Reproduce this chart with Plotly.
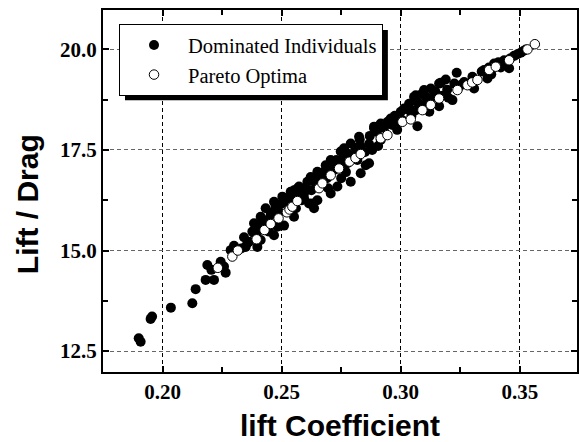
import plotly.graph_objects as go

# Dominated individuals (lift coefficient, lift/drag)
dom_x = [0.1900, 0.1908, 0.1950, 0.1956, 0.2035, 0.2125, 0.2139, 0.2181, 0.2216, 0.2188,
         0.2244, 0.2265, 0.2258, 0.2205, 0.2286, 0.2300, 0.2330, 0.2349, 0.2342, 0.2356,
         0.2363, 0.2377, 0.2384, 0.2384, 0.2398, 0.2412, 0.2412, 0.2426, 0.2412, 0.2433,
         0.2447, 0.2454, 0.2433, 0.2468, 0.2468, 0.2482, 0.2489, 0.2503, 0.2510, 0.2524,
         0.2538, 0.2552, 0.2552, 0.2552, 0.2566, 0.2573, 0.2594, 0.2594, 0.2608, 0.2615,
         0.2622, 0.2629, 0.2636, 0.2650, 0.2650, 0.2664, 0.2685, 0.2706, 0.2706, 0.2720,
         0.2734, 0.2748, 0.2762, 0.2776, 0.2790, 0.2790, 0.2804, 0.2818, 0.2825, 0.2832,
         0.2828, 0.2853, 0.2867, 0.2867, 0.2888, 0.2888, 0.2916, 0.2916, 0.2958, 0.2965,
         0.3000, 0.3007, 0.3014, 0.3028, 0.3056, 0.3063, 0.3063, 0.3070, 0.3070, 0.3098,
         0.3105, 0.3126, 0.3161, 0.3161, 0.3168, 0.3189, 0.3217, 0.3235, 0.3245, 0.3266,
         0.3301, 0.3308, 0.3350, 0.3364, 0.3392, 0.3434, 0.3441, 0.3455, 0.3476, 0.3504,
         0.3525,
         0.2405, 0.2440, 0.2460, 0.2475, 0.2495, 0.2515, 0.2530, 0.2545, 0.2560, 0.2580,
         0.2600, 0.2585, 0.2625, 0.2640, 0.2660, 0.2675, 0.2690, 0.2700, 0.2715, 0.2730,
         0.2745, 0.2760, 0.2780, 0.2695, 0.2750, 0.2770, 0.2810, 0.2830, 0.2850, 0.2870,
         0.2880, 0.2900, 0.2905, 0.2930, 0.2945, 0.2975, 0.2990, 0.2985, 0.3035, 0.3045,
         0.3080, 0.3090, 0.3110, 0.3130, 0.3145, 0.3175, 0.3195, 0.3120, 0.3200, 0.3225,
         0.3255, 0.3290, 0.3340, 0.3370, 0.3380, 0.3410, 0.3420, 0.3460, 0.3490, 0.3515]
dom_y = [12.82, 12.73, 13.30, 13.36, 13.58, 13.69, 14.04, 14.27, 14.27, 14.64,
         14.72, 14.45, 14.60, 14.52, 15.01, 15.12, 15.05, 15.09, 15.33, 15.18,
         15.22, 15.47, 15.43, 15.68, 15.09, 15.26, 15.63, 15.72, 15.84, 15.51,
         15.47, 15.88, 16.05, 16.21, 15.38, 15.59, 15.96, 16.34, 15.62, 16.17,
         16.46, 16.50, 15.84, 16.25, 16.54, 16.59, 16.30, 16.42, 16.71, 16.17,
         16.83, 16.17, 16.05, 16.25, 16.96, 16.67, 17.12, 17.25, 16.42, 17.00,
         16.59, 17.46, 17.54, 17.17, 16.71, 17.66, 17.33, 17.25, 17.83, 16.92,
         17.76, 17.12, 17.17, 17.65, 18.04, 18.08, 18.16, 17.75, 18.28, 18.12,
         18.45, 18.24, 18.53, 18.51, 18.82, 18.86, 18.49, 18.70, 18.09, 18.99,
         18.82, 19.03, 19.15, 18.59, 19.17, 19.25, 18.74, 19.42, 19.07, 19.19,
         19.32, 19.03, 19.49, 19.28, 19.65, 19.73, 19.65, 19.53, 19.84, 19.92,
         20.00,
         15.50, 15.75, 15.95, 16.10, 16.15, 16.28, 16.00, 16.35, 16.05, 16.40,
         16.55, 16.25, 16.50, 16.70, 16.85, 16.95, 16.80, 17.05, 17.15, 17.25,
         17.10, 17.30, 17.40, 16.55, 16.80, 16.95, 17.55, 17.60, 17.45, 17.85,
         17.50, 17.95, 17.60, 18.05, 18.20, 18.35, 18.20, 18.00, 18.65, 18.35,
         18.60, 18.90, 18.70, 18.80, 18.95, 18.85, 19.00, 18.45, 18.80, 19.15,
         19.12, 19.15, 19.45, 19.55, 19.38, 19.68, 19.55, 19.78, 19.88, 19.96]

# Pareto optima
par_x = [0.2232, 0.2293, 0.2316, 0.2395, 0.2428, 0.2454, 0.2487, 0.2522, 0.2533, 0.2545,
         0.2566, 0.2657, 0.2671, 0.2706, 0.2741, 0.2785, 0.2810, 0.2832, 0.2916, 0.2944,
         0.3007, 0.3042, 0.3091, 0.3126, 0.3161, 0.3238, 0.3280, 0.3300, 0.3322, 0.3371,
         0.3399, 0.3455, 0.3532, 0.3563]
par_y = [14.57, 14.85, 15.00, 15.28, 15.51, 15.66, 15.80, 15.95, 16.02, 16.09,
         16.23, 16.55, 16.67, 16.87, 17.04, 17.21, 17.30, 17.40, 17.79, 17.87,
         18.20, 18.26, 18.49, 18.62, 18.78, 18.99, 19.11, 19.18, 19.24, 19.49,
         19.57, 19.73, 20.00, 20.13]

x_ticks = [0.20, 0.25, 0.30, 0.35]
x_ticklabels = ["0.20", "0.25", "0.30", "0.35"]
y_ticks = [12.5, 15.0, 17.5, 20.0]
y_ticklabels = ["12.5", "15.0", "17.5", "20.0"]

fig = go.Figure()
fig.add_trace(go.Scatter(
    x=dom_x, y=dom_y, mode="markers", name="Dominated Individuals",
    marker=dict(symbol="circle", size=10, color="black", line=dict(width=0))))
fig.add_trace(go.Scatter(
    x=par_x, y=par_y, mode="markers", name="Pareto Optima",
    marker=dict(symbol="circle", size=9.5, color="white", line=dict(color="black", width=1))))

tickfont = dict(family="Liberation Serif, Times New Roman, serif", size=21, color="black")
titlefont = dict(family="Liberation Sans, Arial, sans-serif", size=30, color="black")

fig.update_layout(
    width=579, height=442,
    margin=dict(l=103, r=2, t=10, b=70, autoexpand=False),
    paper_bgcolor="white", plot_bgcolor="white",
    showlegend=True,
    legend=dict(x=0.0338, y=0.961, xanchor="left", yanchor="top",
                bgcolor="white", bordercolor="black", borderwidth=1,
                font=dict(family="Liberation Serif, Times New Roman, serif", size=20.5, color="black"),
                itemwidth=58, tracegroupgap=0),
    xaxis=dict(range=[0.175, 0.374], tickmode="array", tickvals=x_ticks,
               ticktext=["<b>%s</b>" % t for t in x_ticklabels],
               ticks="inside", ticklen=6, tickwidth=2, tickcolor="black",
               showline=True, linewidth=2, linecolor="black", mirror="allticks",
               showgrid=True, gridcolor="black", gridwidth=1, griddash="4px,3px",
               zeroline=False, tickfont=tickfont, automargin=False,
               minor=dict(tickmode="array", tickvals=[0.175, 0.225, 0.275, 0.325],
                          ticks="inside", ticklen=5, tickwidth=2, tickcolor="black", showgrid=False),
               title=dict(text="<b>lift Coefficient</b>", font=titlefont, standoff=18)),
    yaxis=dict(range=[11.98, 20.98], tickmode="array", tickvals=y_ticks,
               ticktext=["<b>%s</b>" % t for t in y_ticklabels],
               ticks="inside", ticklen=6, tickwidth=2, tickcolor="black",
               showline=True, linewidth=2, linecolor="black", mirror="allticks",
               showgrid=True, gridcolor="#666666", gridwidth=1, griddash="4px,3px",
               zeroline=False, tickfont=tickfont, automargin=False,
               minor=dict(tickmode="array", tickvals=[13.75, 16.25, 18.75],
                          ticks="inside", ticklen=5, tickwidth=2, tickcolor="black", showgrid=False)),
    annotations=[dict(text="<b>Lift / Drag</b>", font=titlefont, textangle=-90,
                      xref="paper", yref="paper", x=-0.160, y=0.464,
                      xanchor="center", yanchor="middle", showarrow=False)],
    shapes=[dict(type="rect", xref="paper", yref="paper",
                 x0=0.0464, x1=0.601, y0=0.751, y1=0.945,
                 fillcolor="black", line=dict(width=0), layer="above")],
)

fig.write_html("out.html", config={"displayModeBar": False},
               post_script="document.body.style.margin='0';document.body.style.overflow='hidden';")
